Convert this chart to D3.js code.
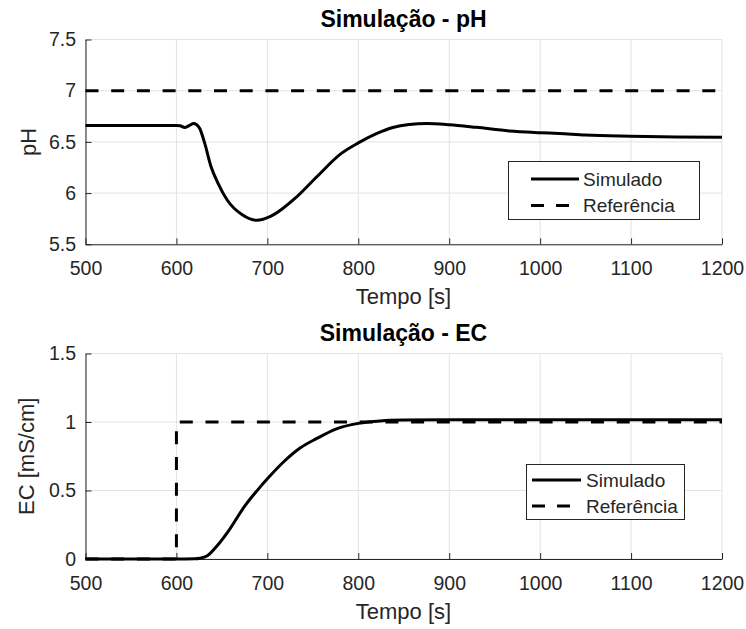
<!DOCTYPE html>
<html><head><meta charset="utf-8">
<script src="https://cdn.jsdelivr.net/npm/d3@7"></script>
<style>
body{margin:0;background:#fff}
svg{display:block}
text{font-family:"Liberation Sans",Arial,Helvetica,sans-serif}
</style>
</head><body>
<svg id="c" width="746" height="629"></svg>
<script>
// ---------- DATA ----------
const timePH = [500,550,600,604,609,614,619,622,625.5,631,638,645.5,656,672,688,704,717,730,755,781,800,820,838,856,875,900,930,966,1000,1021,1050,1100,1150,1200];
const phSim  = [6.66,6.66,6.66,6.658,6.64,6.66,6.68,6.67,6.633,6.49,6.26,6.10,5.93,5.79,5.735,5.775,5.85,5.945,6.165,6.385,6.49,6.58,6.64,6.67,6.68,6.668,6.642,6.607,6.59,6.582,6.567,6.556,6.549,6.545];
const phRefTime = [500,1200];
const phRef     = [7,7];

const timeEC = [500,600,620,626,634,645,656.4,674.5,692.7,700,718,736,754.5,776,800,824,850,900,1000,1100,1200];
const ecSim  = [0,0,0.002,0.006,0.024,0.098,0.196,0.38,0.53,0.585,0.71,0.81,0.88,0.95,0.99,1.008,1.014,1.016,1.016,1.016,1.016];
const ecRefTime = [500,600,600,1200];
const ecRef     = [0,0,1,1];

const xTicks  = [500,600,700,800,900,1000,1100,1200];
const phTicks = [5.5,6,6.5,7,7.5];
const ecTicks = [0,0.5,1,1.5];

const titles  = ["Simulação - pH","Simulação - EC"];
const yLabels = ["pH","EC [mS/cm]"];
const xLabel  = "Tempo [s]";
const legendLabels = ["Simulado","Referência"];

// ---------- DRAW ----------
const svg = d3.select("#c");
const AX = "#262626";

function panel(o){
  const g = svg.append("g");
  const x = d3.scaleLinear().domain([500,1200]).range([85.5,722]);
  const y = d3.scaleLinear().domain(o.ydom).range([o.bottom,o.top]);

  // grid
  g.append("g").selectAll("line").data(xTicks).join("line")
    .attr("x1",d=>x(d)).attr("x2",d=>x(d)).attr("y1",o.top).attr("y2",o.bottom)
    .attr("stroke","#e3e3e3").attr("stroke-width",1);
  g.append("g").selectAll("line").data(o.yticks).join("line")
    .attr("x1",85.5).attr("x2",722).attr("y1",d=>y(d)).attr("y2",d=>y(d))
    .attr("stroke","#e3e3e3").attr("stroke-width",1);

  // axes
  const xa = g.append("g").attr("transform",`translate(0,${o.bottom})`)
    .call(d3.axisBottom(x).tickValues(xTicks).tickSizeInner(-6).tickSizeOuter(0).tickPadding(17).tickFormat(d3.format("d")));
  const ya = g.append("g").attr("transform",`translate(85.5,0)`)
    .call(d3.axisLeft(y).tickValues(o.yticks).tickSizeInner(-6).tickSizeOuter(0).tickPadding(9.5).tickFormat(d=>String(d)));
  [xa,ya].forEach(a=>{
    a.select(".domain").attr("stroke",AX).attr("stroke-width",1);
    a.selectAll(".tick line").attr("stroke",AX).attr("stroke-width",1);
    a.selectAll(".tick text").attr("fill",AX).style("font-size","19.5px")
      .style("font-family",'"Liberation Sans",Arial,sans-serif');
  });

  // lines
  const lineLin = d3.line().x(d=>x(d[0])).y(d=>y(d[1]));
  const lineSm = d3.line().x(d=>x(d[0])).y(d=>y(d[1])).curve(d3.curveMonotoneX);
  g.append("path").datum(o.refT.map((t,i)=>[t,o.ref[i]]))
    .attr("d",lineLin).attr("fill","none").attr("stroke","#000")
    .attr("stroke-width",3).attr("stroke-dasharray","13,12.7");
  g.append("path").datum(o.simT.map((t,i)=>[t,o.sim[i]]))
    .attr("d",lineSm).attr("fill","none").attr("stroke","#000")
    .attr("stroke-width",3).attr("stroke-linejoin","round");

  // title
  g.append("text").attr("x",403.5).attr("y",o.top-12.5).attr("text-anchor","middle")
    .style("font-size","23px").style("font-weight","bold").attr("fill","#000").text(o.title);
  // x label
  g.append("text").attr("x",403.5).attr("y",o.bottom+60).attr("text-anchor","middle")
    .style("font-size","22px").attr("fill",AX).text(xLabel);
  // y label
  g.append("text").attr("transform",`translate(${o.ylx},${(o.top+o.bottom)/2}) rotate(-90)`)
    .attr("text-anchor","middle").style("font-size","22px").attr("fill",AX).text(o.ylabel);

  // legend
  const L = o.leg;
  const lg = g.append("g");
  lg.append("rect").attr("x",L.x0).attr("y",L.y0).attr("width",L.x1-L.x0).attr("height",L.y1-L.y0)
    .attr("fill","#fff").attr("stroke",AX).attr("stroke-width",1);
  legendLabels.forEach((lab,i)=>{
    const yy = L.rows[i];
    lg.append("line").attr("x1",L.lx0).attr("x2",L.lx1).attr("y1",yy).attr("y2",yy)
      .attr("stroke","#000").attr("stroke-width",3).attr("stroke-dasharray",i===1?"13,12":null);
    lg.append("text").attr("x",L.tx).attr("y",yy).attr("dy","0.36em")
      .style("font-size","19px").attr("fill",AX).text(lab);
  });
}

panel({top:39.5,bottom:244.3,ydom:[5.5,7.5],yticks:phTicks,
  simT:timePH,sim:phSim,refT:phRefTime,ref:phRef,title:titles[0],ylabel:yLabels[0],ylx:36,
  leg:{x0:508.5,y0:161.5,x1:699.5,y1:219.5,lx0:531,lx1:579,tx:583,rows:[179,205.5]}});
panel({top:353.5,bottom:559,ydom:[0,1.5],yticks:ecTicks,
  simT:timeEC,sim:ecSim,refT:ecRefTime,ref:ecRef,title:titles[1],ylabel:yLabels[1],ylx:34,
  leg:{x0:526.5,y0:464.5,x1:684.5,y1:519.5,lx0:532,lx1:581,tx:586,rows:[480,506]}});
</script>
</body></html>
